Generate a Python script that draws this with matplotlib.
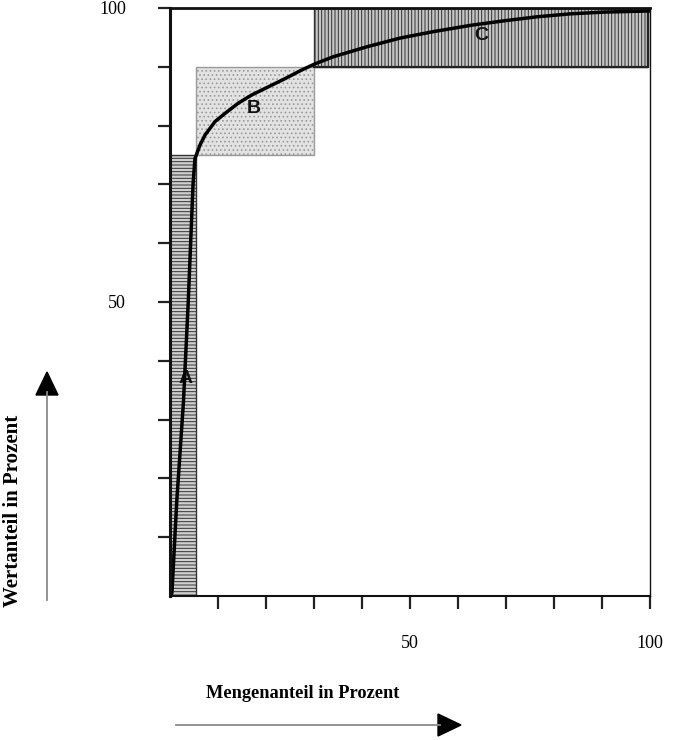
import matplotlib
matplotlib.use("Agg")
import matplotlib.pyplot as plt
from matplotlib.patches import Rectangle, Polygon
from matplotlib.lines import Line2D

# ---- data ----
curve_x = [0, 0.4, 1.4, 2.8, 3.8, 4.4, 4.8, 5.2, 6.25, 7.3, 9.4, 11.5, 14.2, 17, 20.5,
           24, 27.3, 30.2, 34, 41, 48, 55, 63, 69.4, 76.4, 83.3, 90.3, 100]
curve_y = [0, 0.5, 16, 33, 50, 62, 70, 74.4, 76.7, 78.4, 80.7, 82.1, 83.8, 85.2, 86.6,
           88.0, 89.4, 90.5, 91.7, 93.4, 94.9, 96.0, 97.1, 97.8, 98.5, 99.0, 99.3, 99.5]

class_names = ["A", "B", "C"]
class_x = [(0, 5.4), (5.4, 30), (30, 99.6)]
class_y = [(0, 75), (75, 90), (90, 100)]
label_pos = [(3.3, 37), (17.4, 82.9), (64.8, 95.3)]

xticks = [10, 20, 30, 40, 50, 60, 70, 80, 90, 100]
yticks = [10, 20, 30, 40, 50, 60, 70, 80, 90, 100]
shown_labels = [50, 100]

xlabel = "Mengenanteil in Prozent"
ylabel = "Wertanteil in Prozent"

plt.rcParams['hatch.linewidth'] = 0.7

W, H = 675, 740
fig = plt.figure(figsize=(W / 100, H / 100), dpi=100)
ax = fig.add_axes([170 / W, 1 - 596 / H, 480 / W, 588 / H])
ax.set_xlim(0, 100)
ax.set_ylim(0, 100)

styles = [
    dict(facecolor="#cfcfcf", edgecolor="#333333", hatch="-----", lw=1.0),
    dict(facecolor="#e2e2e2", edgecolor="#9a9a9a", hatch="....", lw=1.0),
    dict(facecolor="#c4c4c4", edgecolor="#333333", hatch="|||||", lw=1.0),
]
for name, (x0, x1), (y0, y1), st in zip(class_names, class_x, class_y, styles):
    r = Rectangle((x0, y0), x1 - x0, y1 - y0, facecolor=st["facecolor"],
                  edgecolor=st["edgecolor"], hatch=st["hatch"], linewidth=st["lw"],
                  zorder=1)
    ax.add_patch(r)
# darker frame lines on C
ax.plot([class_x[2][0], class_x[2][1], class_x[2][1], class_x[2][0]],
        [class_y[2][1], class_y[2][1], class_y[2][0], class_y[2][0]],
        color="#222", lw=1.6, zorder=2)

for name, (lx, ly) in zip(class_names, label_pos):
    ax.text(lx, ly, name, ha="center", va="center", fontsize=14,
            fontweight="heavy", family=["Liberation Sans"], color="#111", zorder=2)

ax.plot(curve_x, curve_y, color="black", lw=2.5, solid_capstyle="round",
        solid_joinstyle="round", zorder=3)

# ticks
ax.set_xticks(xticks)
ax.set_xticklabels([str(t) if t in shown_labels else "" for t in xticks],
                   family="Liberation Serif", fontsize=13)
ax.set_yticks(yticks)
ax.set_yticklabels([str(t) if t in shown_labels else "" for t in yticks],
                   family="Liberation Serif", fontsize=13)
ax.tick_params(axis="x", direction="out", length=9, width=1.6, pad=19, color="#222")
ax.tick_params(axis="y", direction="out", length=9, width=1.6, pad=22.5, color="#222")

ax.spines["left"].set_linewidth(2.2)
ax.spines["top"].set_linewidth(2.0)
ax.spines["bottom"].set_linewidth(1.5)
ax.spines["right"].set_linewidth(1.0)
for s in ax.spines.values():
    s.set_color("#111")
    s.set_zorder(4)

# axis titles
fig.text(303 / W, 1 - 693 / H, xlabel, ha="center", va="center",
         family="Liberation Serif", fontweight="bold", fontsize=13.2)
fig.text(13 / W, 1 - 511 / H, ylabel, ha="center", va="center", rotation=90,
         family="Liberation Serif", fontweight="bold", fontsize=15)

def fx(p):
    return p / W

def fy(p):
    return 1 - p / H

fig.add_artist(Line2D([fx(176), fx(440)], [fy(725), fy(725)], color="#8a8a8a", lw=1.3))
fig.add_artist(Polygon([[fx(438), fy(714)], [fx(461), fy(725)], [fx(438), fy(736)]],
                       closed=True, facecolor="black", edgecolor="black",
                       transform=fig.transFigure))
fig.add_artist(Line2D([fx(47), fx(47)], [fy(600), fy(392)], color="#8a8a8a", lw=1.3))
fig.add_artist(Polygon([[fx(36), fy(395)], [fx(47), fy(372)], [fx(58), fy(395)]],
                       closed=True, facecolor="black", edgecolor="black",
                       transform=fig.transFigure))

fig.savefig("out.png", dpi=100)
